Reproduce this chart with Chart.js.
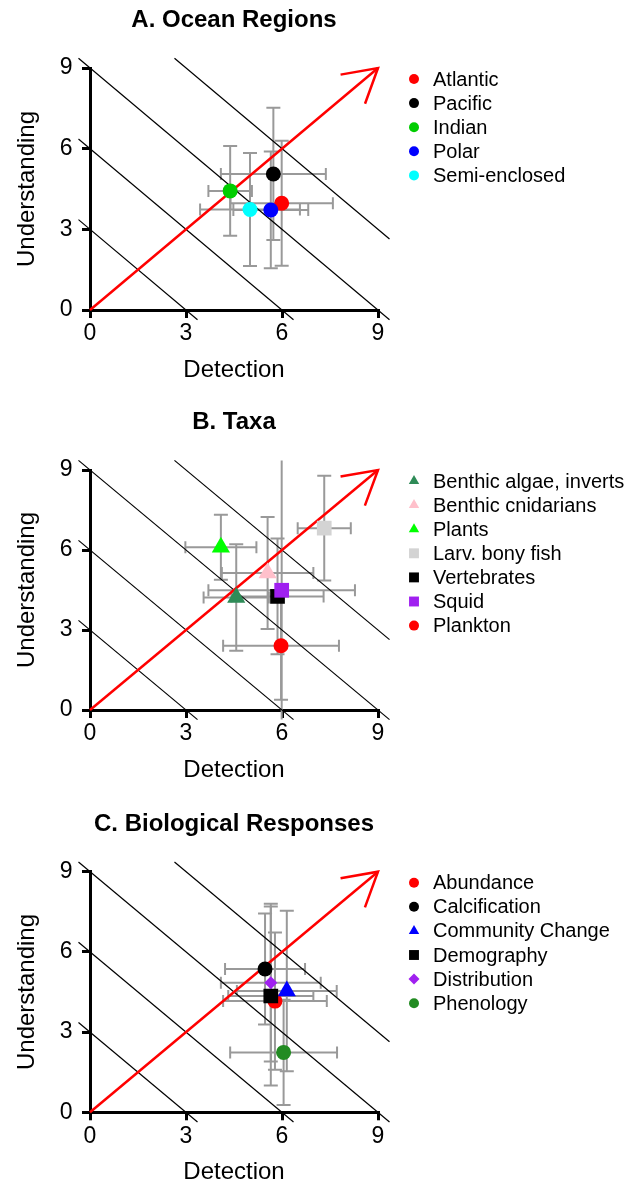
<!DOCTYPE html>
<html>
<head>
<meta charset="utf-8">
<script src="https://cdn.jsdelivr.net/npm/chart.js@4.4.0/dist/chart.umd.min.js"></script>
<style>
html, body { margin: 0; padding: 0; background: #fff; overflow: hidden; }
.panel { position: absolute; left: 0; width: 636px; }
</style>
</head>
<body>
<div class="panel" style="top:0px"><canvas id="chartA" width="636" height="400"></canvas></div>
<div class="panel" style="top:400px"><canvas id="chartB" width="636" height="401"></canvas></div>
<div class="panel" style="top:801px"><canvas id="chartC" width="636" height="390"></canvas></div>
<script>
// A. Ocean Regions
var regions = ['Atlantic', 'Pacific', 'Indian', 'Polar', 'Semi-enclosed'];
var regionDetection = [5.99, 5.73, 4.38, 5.65, 5.0];
var regionUnderstanding = [3.97, 5.06, 4.43, 3.72, 3.74];
var regionDetectionErr = [1.6, 1.64, 0.68, 1.17, 1.56];
var regionUnderstandingErr = [2.32, 2.46, 1.67, 2.17, 2.1];
var regionColors = ['#ff0000', '#000000', '#00cd00', '#0000ff', '#00ffff'];
var regionShapes = ['circle', 'circle', 'circle', 'circle', 'circle'];

// B. Taxa
var taxa = ['Benthic algae, inverts', 'Benthic cnidarians', 'Plants', 'Larv. bony fish', 'Vertebrates', 'Squid', 'Plankton'];
var taxaDetection = [4.57, 5.55, 4.09, 7.32, 5.86, 5.99, 5.97];
var taxaUnderstanding = [4.22, 5.14, 6.1, 6.82, 4.26, 4.49, 2.41];
var taxaDetectionErr = [1.02, 1.43, 1.11, 0.83, 1.44, 2.29, 1.81];
var taxaUnderstandingErr = [2.0, 2.1, 1.22, 1.96, 2.17, 5.0, 2.03];
var taxaColors = ['#2e8b57', '#ffc0cb', '#00ff00', '#d3d3d3', '#000000', '#a020f0', '#ff0000'];
var taxaShapes = ['triangle', 'triangle', 'triangle', 'rect', 'rect', 'rect', 'circle'];

// C. Biological Responses
var responses = ['Abundance', 'Calcification', 'Community Change', 'Demography', 'Distribution', 'Phenology'];
var responseDetection = [5.78, 5.47, 6.15, 5.65, 5.65, 6.05];
var responseUnderstanding = [4.16, 5.36, 4.54, 4.35, 4.85, 2.24];
var responseDetectionErr = [1.62, 1.25, 1.56, 1.33, 1.56, 1.67];
var responseUnderstandingErr = [2.57, 2.08, 3.0, 3.35, 2.95, 1.97];
var responseColors = ['#ff0000', '#000000', '#0000ff', '#000000', '#a020f0', '#228b22'];
var responseShapes = ['circle', 'circle', 'triangle', 'rect', 'rectRot', 'circle'];

var axisTicks = [0, 3, 6, 9];
var isoSums = [3, 6, 9, 12];      // lines of detection + understanding = const
var arrowFrom = [0, 0];
var arrowTo = [9, 9];

var FONT = '"Liberation Sans", Arial, Helvetica, sans-serif';
var LO = -0.36, HI = 9.36;       // plot region (R adds 4%)
var pointSize = { circle: 7.5, triangle: 10.5, rect: 10.4, rectRot: 6.5 };
var legendSize = { circle: 5, triangle: 6, rect: 7, rectRot: 5.5 };

Chart.defaults.font.family = FONT;
Chart.defaults.color = '#000';

function drawMarker(ctx, shape, x, y, r, color) {
    ctx.fillStyle = color;
    ctx.beginPath();
    if (shape === 'circle') {
        ctx.arc(x, y, r, 0, Math.PI * 2);
    } else if (shape === 'triangle') {
        for (var k = 0; k < 3; k++) {
            var a = k * 2 * Math.PI / 3;
            ctx.lineTo(x + Math.sin(a) * r, y - Math.cos(a) * r);
        }
    } else if (shape === 'rect') {
        var s = r * Math.SQRT1_2;
        ctx.rect(x - s, y - s, 2 * s, 2 * s);
    } else {
        ctx.moveTo(x - r, y); ctx.lineTo(x, y - r); ctx.lineTo(x + r, y); ctx.lineTo(x, y + r);
    }
    ctx.closePath();
    ctx.fill();
}

// error bars behind everything, clipped to the plot region
var errorBars = {
    id: 'errorBars',
    beforeDatasetsDraw: function (chart, args, o) {
        var xs = chart.scales.x, ys = chart.scales.y, ctx = chart.ctx;
        var left = xs.getPixelForValue(LO), right = xs.getPixelForValue(HI);
        var top = ys.getPixelForValue(HI), bottom = ys.getPixelForValue(LO);
        ctx.save();
        ctx.beginPath();
        ctx.rect(left, top, right - left, bottom - top);
        ctx.clip();
        ctx.strokeStyle = '#999999';
        ctx.lineWidth = 2;
        o.x.forEach(function (xv, i) {
            var yv = o.y[i];
            var px = xs.getPixelForValue(xv), py = ys.getPixelForValue(yv);
            var x0 = xs.getPixelForValue(xv - o.xErr[i]), x1 = xs.getPixelForValue(xv + o.xErr[i]);
            var y0 = ys.getPixelForValue(yv - o.yErr[i]), y1 = ys.getPixelForValue(yv + o.yErr[i]);
            ctx.beginPath();
            ctx.moveTo(x0, py); ctx.lineTo(x1, py);
            ctx.moveTo(x0, py - 6); ctx.lineTo(x0, py + 6);
            ctx.moveTo(x1, py - 6); ctx.lineTo(x1, py + 6);
            ctx.moveTo(px, y0); ctx.lineTo(px, y1);
            ctx.moveTo(px - 7, y0); ctx.lineTo(px + 7, y0);
            ctx.moveTo(px - 7, y1); ctx.lineTo(px + 7, y1);
            ctx.stroke();
        });
        ctx.restore();
    }
};

// arrow head, panel title and legend
var decorations = {
    id: 'decorations',
    afterDatasetsDraw: function (chart, args, o) {
        var xs = chart.scales.x, ys = chart.scales.y, ctx = chart.ctx, ca = chart.chartArea;
        var tx = xs.getPixelForValue(arrowTo[0]), ty = ys.getPixelForValue(arrowTo[1]);
        var fx = xs.getPixelForValue(arrowFrom[0]), fy = ys.getPixelForValue(arrowFrom[1]);
        var ang = Math.atan2(ty - fy, tx - fx);
        ctx.save();
        ctx.strokeStyle = '#ff0000';
        ctx.lineWidth = 2.5;
        ctx.beginPath();
        ctx.moveTo(tx + 38 * Math.cos(ang + Math.PI - Math.PI / 6), ty + 38 * Math.sin(ang + Math.PI - Math.PI / 6));
        ctx.lineTo(tx, ty);
        ctx.lineTo(tx + 38 * Math.cos(ang + Math.PI + Math.PI / 6), ty + 38 * Math.sin(ang + Math.PI + Math.PI / 6));
        ctx.stroke();

        ctx.fillStyle = '#000';
        ctx.textAlign = 'center';
        ctx.textBaseline = 'middle';
        ctx.font = 'bold 24px ' + FONT;
        ctx.fillText(o.title, (ca.left + ca.right) / 2, ca.top - 47.5);

        ctx.font = '20px ' + FONT;
        ctx.textAlign = 'left';
        o.labels.forEach(function (lab, i) {
            var y = ca.top + 11 + i * 24.1;
            drawMarker(ctx, o.shapes[i], 414, y, legendSize[o.shapes[i]], o.colors[i]);
            ctx.fillStyle = '#000';
            ctx.fillText(lab, 433, y + 1);
        });
        ctx.restore();
    }
};

function axis(which, text) {
    return {
        type: 'linear',
        min: 0,
        max: 9,
        afterBuildTicks: function (s) { s.ticks = axisTicks.map(function (v) { return { value: v }; }); },
        afterFit: function (s) { if (which === 'x') { s.height = 75; } else { s.width = 90; } },
        grid: { drawOnChartArea: false, drawTicks: true, tickLength: 8, lineWidth: 3, color: '#000' },
        border: { display: true, width: 3, color: '#000' },
        ticks: { color: '#000', font: { size: 23 }, padding: which === 'x' ? 2.2 : 9.5, maxRotation: 0, autoSkip: false },
        title: {
            display: true, text: text, color: '#000', font: { size: 24 },
            padding: which === 'x' ? { top: 0, bottom: 0.5 } : { top: 12.6, bottom: 0 }
        }
    };
}

function makePanel(id, title, labels, xv, yv, xe, ye, colors, shapes, padTop, padBottom) {
    var datasets = [{
        type: 'scatter',
        data: xv.map(function (v, i) { return { x: v, y: yv[i] }; }),
        pointStyle: shapes,
        pointRadius: shapes.map(function (s) { return pointSize[s]; }),
        pointBackgroundColor: colors,
        pointBorderWidth: 0,
        order: 0
    }, {
        type: 'line',
        data: [{ x: arrowFrom[0], y: arrowFrom[1] }, { x: arrowTo[0], y: arrowTo[1] }],
        borderColor: '#ff0000',
        borderWidth: 2.5,
        pointRadius: 0,
        clip: false,
        order: 1
    }];
    isoSums.forEach(function (s) {
        var a = Math.max(LO, s - HI), b = Math.min(HI, s - LO);
        datasets.push({
            type: 'line',
            data: [{ x: a, y: s - a }, { x: b, y: s - b }],
            borderColor: '#000',
            borderWidth: 1.2,
            pointRadius: 0,
            clip: false,
            order: 2
        });
    });

    return new Chart(document.getElementById(id), {
        type: 'scatter',
        data: { datasets: datasets },
        options: {
            responsive: false,
            animation: false,
            events: [],
            layout: { padding: { left: 0, right: 258, top: padTop, bottom: padBottom } },
            scales: { x: axis('x', 'Detection'), y: axis('y', 'Understanding') },
            plugins: {
                legend: { display: false },
                tooltip: { enabled: false },
                errorBars: { x: xv, y: yv, xErr: xe, yErr: ye },
                decorations: { title: title, labels: labels, colors: colors, shapes: shapes }
            }
        },
        plugins: [errorBars, decorations]
    });
}

makePanel('chartA', 'A. Ocean Regions', regions, regionDetection, regionUnderstanding,
    regionDetectionErr, regionUnderstandingErr, regionColors, regionShapes, 68, 15);
makePanel('chartB', 'B. Taxa', taxa, taxaDetection, taxaUnderstanding,
    taxaDetectionErr, taxaUnderstandingErr, taxaColors, taxaShapes, 70, 16);
makePanel('chartC', 'C. Biological Responses', responses, responseDetection, responseUnderstanding,
    responseDetectionErr, responseUnderstandingErr, responseColors, responseShapes, 70.7, 3.7);
</script>
</body>
</html>
